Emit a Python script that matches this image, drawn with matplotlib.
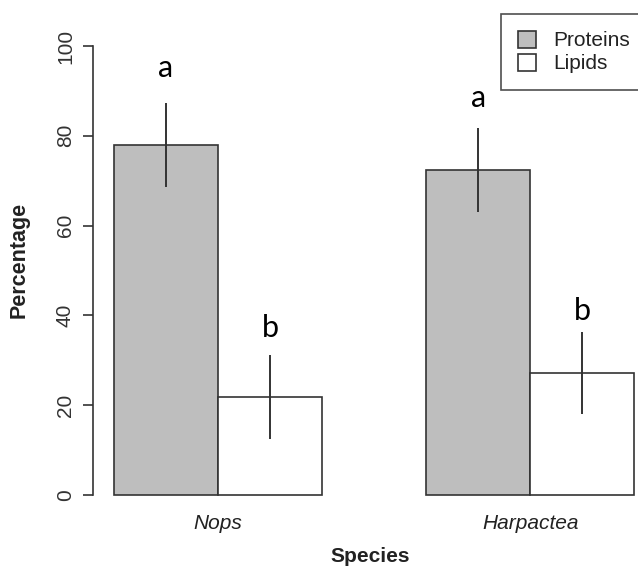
import matplotlib.pyplot as plt
from matplotlib.patches import Patch
import numpy as np

plt.rcParams['font.family'] = ['Liberation Sans', 'DejaVu Sans']

# data
species = ['Nops', 'Harpactea']
nutrients = ['Proteins', 'Lipids']
proteins = [78.0, 72.4]
lipids = [21.8, 27.2]
proteins_err = [9.4, 9.3]
lipids_err = [9.3, 9.2]
letters_prot = ['a', 'a']
letters_lip = ['b', 'b']
letter_y_prot = [95, 88.5]
letter_y_lip = [37.2, 41]

colors = ['#bebebe', 'white']

fig = plt.figure(figsize=(6.38, 5.68), dpi=100)
ax = fig.add_axes([93 / 638, 1 - 513 / 568, (655 - 93) / 638, (513 - 28) / 568])

# R style barplot(beside=TRUE): bars width 1, one unit gap between groups
group_start = np.array([0, 3])
x_prot = group_start + 0.5
x_lip = group_start + 1.5

ax.bar(x_prot, proteins, width=1, color=colors[0], edgecolor='#333333', linewidth=1.2)
ax.bar(x_lip, lipids, width=1, color=colors[1], edgecolor='#333333', linewidth=1.2)

for xs, vals, errs in [(x_prot, proteins, proteins_err), (x_lip, lipids, lipids_err)]:
    for x, v, e in zip(xs, vals, errs):
        ax.plot([x, x], [v - e, v + e], color='#333333', lw=1.4, solid_capstyle='butt')

for xs, labs, ys in [(x_prot, letters_prot, letter_y_prot), (x_lip, letters_lip, letter_y_lip)]:
    for x, lab, y in zip(xs, labs, ys):
        ax.text(x, y, lab, ha='center', va='center', fontsize=22, family='Lato', color='black')

ax.set_xlim(-0.2, 5.2)
ax.set_ylim(-4, 104)

for s in ['top', 'right', 'bottom']:
    ax.spines[s].set_visible(False)
ax.spines['left'].set_bounds(0, 100)
ax.spines['left'].set_color('#333333')
ax.spines['left'].set_linewidth(1.2)

ax.set_yticks([0, 20, 40, 60, 80, 100])
ax.tick_params(axis='y', direction='out', length=7, width=1.2, color='#333333',
               labelsize=15, labelcolor='#333333', pad=6)
for lab in ax.get_yticklabels():
    lab.set_rotation(90)
    lab.set_va('center')

ax.set_xticks(group_start + 1.0)
ax.set_xticklabels(species, style='italic', fontsize=15, color='#222222')
ax.tick_params(axis='x', length=0, pad=1)

fig.text(19 / 638, 1 - 260 / 568, 'Percentage', rotation=90, ha='center', va='center',
         fontsize=15.5, fontweight='bold', color='#222222')
fig.text(370 / 638, 1 - 557 / 568, 'Species', ha='center', va='center',
         fontsize=15, fontweight='bold', color='#222222')

handles = [Patch(facecolor=c, edgecolor='#333333', linewidth=1.2) for c in colors]
leg = fig.legend(handles, nutrients, loc='upper left', bbox_to_anchor=(501 / 638, 1 - 14 / 568),
                 fontsize=15, frameon=True, fancybox=False, handlelength=0.9, handleheight=0.9,
                 handletextpad=0.8, labelspacing=0.15, borderpad=0.8, borderaxespad=0)
leg.get_frame().set_edgecolor('#222222')
leg.get_frame().set_linewidth(1.2)
for t in leg.get_texts():
    t.set_color('#222222')

fig.savefig('out.png', dpi=100)
